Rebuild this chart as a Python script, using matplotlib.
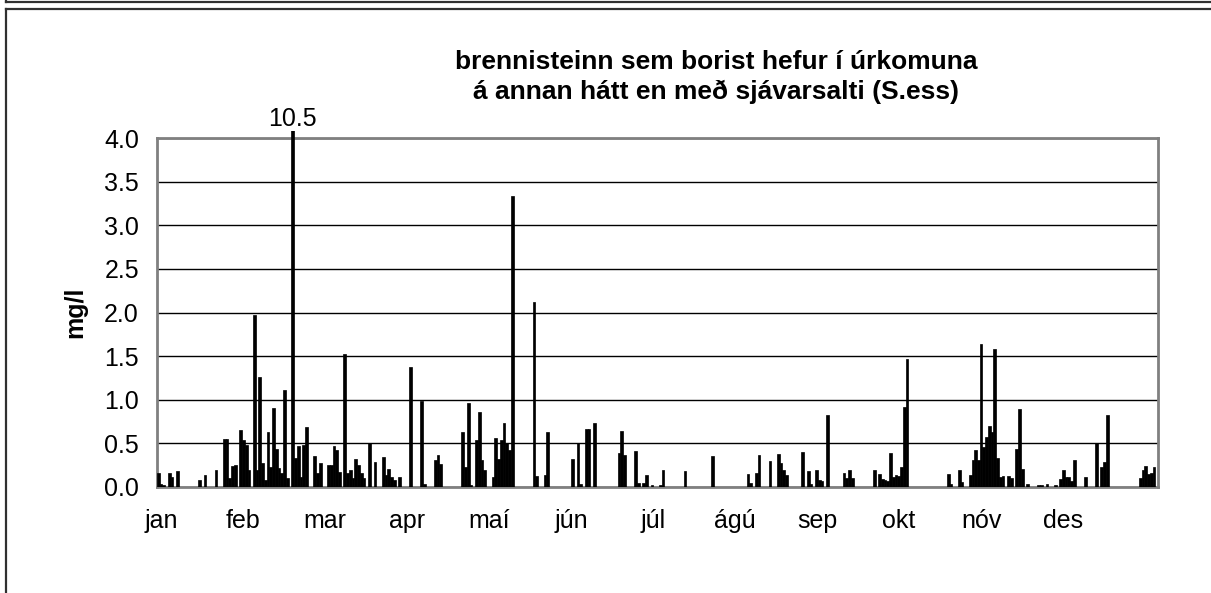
import numpy as np
import matplotlib
matplotlib.use("Agg")
import matplotlib.pyplot as plt
from matplotlib.lines import Line2D
from matplotlib.patches import Rectangle

plt.rcParams['font.family'] = ['Liberation Sans', 'DejaVu Sans']

# dagar ársins (0 = 1. jan) með mælingu og gildi S.ess í mg/l
days = [0, 1, 2, 4, 5, 7, 15, 17, 21, 24, 25, 26, 27, 28, 30, 31, 32, 33, 35, 36,
        37, 38, 39, 40, 41, 42, 43, 44, 45, 46, 47, 49, 50, 51, 52, 53, 54, 57, 58, 59,
        62, 63, 64, 65, 66, 68, 69, 70, 71, 72, 73, 74, 75, 77, 79, 82, 83, 84, 85, 86,
        88, 92, 96, 97, 101, 102, 103, 111, 112, 113, 114, 116, 117, 118, 119, 122, 123, 124, 125, 126,
        127, 128, 129, 137, 138, 141, 142, 151, 153, 154, 156, 157, 159, 168, 169, 170, 174, 175, 177, 178,
        180, 183, 184, 192, 202, 215, 216, 218, 219, 223, 226, 227, 228, 229, 235, 237, 238, 240, 241, 242,
        244, 250, 251, 252, 253, 261, 263, 264, 265, 266, 267, 268, 269, 270, 271, 272, 273, 288, 289, 292,
        293, 296, 297, 298, 299, 300, 301, 302, 303, 304, 305, 306, 307, 308, 310, 311, 313, 314, 315, 317,
        321, 322, 324, 327, 329, 330, 331, 332, 333, 334, 338, 342, 344, 345, 346, 358, 359, 360, 361, 362,
        363]
s_ess = [0.16, 0.03, 0.02, 0.16, 0.11, 0.18, 0.08, 0.14, 0.20, 0.55, 0.55, 0.10, 0.24, 0.25, 0.65, 0.54, 0.48, 0.19, 1.97, 0.19,
         1.26, 0.28, 0.08, 0.63, 0.23, 0.90, 0.44, 0.22, 0.16, 1.11, 0.10, 10.5, 0.33, 0.47, 0.12, 0.48, 0.69, 0.35, 0.16, 0.27,
         0.25, 0.25, 0.47, 0.42, 0.17, 1.52, 0.16, 0.19, 0.10, 0.32, 0.25, 0.16, 0.10, 0.51, 0.29, 0.34, 0.14, 0.21, 0.12, 0.08,
         0.11, 1.37, 0.98, 0.04, 0.31, 0.37, 0.26, 0.63, 0.23, 0.96, 0.02, 0.54, 0.86, 0.31, 0.20, 0.12, 0.56, 0.32, 0.54, 0.73,
         0.50, 0.42, 3.33, 2.12, 0.13, 0.14, 0.63, 0.32, 0.51, 0.04, 0.67, 0.66, 0.73, 0.39, 0.64, 0.37, 0.41, 0.05, 0.05, 0.14,
         0.02, 0.02, 0.19, 0.18, 0.35, 0.15, 0.05, 0.16, 0.37, 0.30, 0.38, 0.28, 0.20, 0.14, 0.40, 0.18, 0.04, 0.19, 0.08, 0.07,
         0.83, 0.16, 0.10, 0.19, 0.10, 0.19, 0.15, 0.09, 0.08, 0.07, 0.39, 0.12, 0.14, 0.13, 0.23, 0.92, 1.47, 0.15, 0.04, 0.19,
         0.06, 0.14, 0.31, 0.42, 0.31, 1.64, 0.46, 0.57, 0.70, 0.63, 1.58, 0.33, 0.12, 0.13, 0.13, 0.10, 0.44, 0.89, 0.21, 0.03,
         0.02, 0.02, 0.03, 0.02, 0.09, 0.19, 0.12, 0.11, 0.07, 0.31, 0.11, 0.50, 0.23, 0.29, 0.83, 0.10, 0.19, 0.24, 0.15, 0.16,
         0.23]

months = ['jan', 'feb', 'mar', 'apr', 'maí', 'jún', 'júl', 'ágú', 'sep', 'okt', 'nóv', 'des']
yticks = [0.0, 0.5, 1.0, 1.5, 2.0, 2.5, 3.0, 3.5, 4.0]
title = 'brennisteinn sem borist hefur í úrkomuna\ná annan hátt en með sjávarsalti (S.ess)'

series = np.zeros(365)
series[days] = s_ess

fig = plt.figure(figsize=(12.11, 5.93), dpi=100)
ax = fig.add_axes([157 / 1211, 1 - 487 / 593, 1001 / 1211, 349 / 593])

bars = ax.bar(np.arange(365) + 0.5, series, width=1.0, color='black', edgecolor='black', linewidth=0.5, zorder=3)
ax.set_xlim(0, 365)
ax.set_ylim(0, 4)

ax.set_yticks(yticks)
ax.set_yticklabels(['%.1f' % v for v in yticks], fontsize=18)
ax.yaxis.grid(True, color='black', linewidth=1.0, zorder=1)
ax.tick_params(axis='y', length=0, pad=13)

# mánaðarheiti, jafnt dreifð eins og í frumritinu
month_pos = 1.5 + 29.9 * np.arange(12)
ax.set_xticks(month_pos)
ax.set_xticklabels(months, fontsize=18)
ax.tick_params(axis='x', length=0, pad=16)

for s in ax.spines.values():
    s.set_color('#808080')
    s.set_linewidth(2)

ax.set_ylabel('mg/l', fontsize=18, fontweight='bold', labelpad=12)

# gildið sem fer út fyrir ásinn: súlan stendur aðeins upp úr rammanum
big = int(np.argmax(series))
bars[big].set_clip_path(Rectangle((0, 0), 1, 1.02, transform=ax.transAxes))
ax.text(big + 0.5, 4.08, '%.1f' % series[big], ha='center', va='bottom', fontsize=18)

fig.text(716 / 1211, 1 - 77 / 593, title, ha='center', va='center',
         fontsize=19, fontweight='bold', linespacing=1.3)

# rammar utan um myndina
fig.add_artist(Line2D([6 / 1211, 1], [1 - 2 / 593, 1 - 2 / 593], color='#303030', linewidth=1.6))
fig.add_artist(Line2D([6 / 1211, 6 / 1211], [1, 1 - 2 / 593], color='#303030', linewidth=1.6))
fig.add_artist(Line2D([6 / 1211, 1], [1 - 9 / 593, 1 - 9 / 593], color='#303030', linewidth=1.6))
fig.add_artist(Line2D([6 / 1211, 6 / 1211], [1 - 9 / 593, 0], color='#303030', linewidth=1.6))

fig.savefig('out.png', dpi=100)
